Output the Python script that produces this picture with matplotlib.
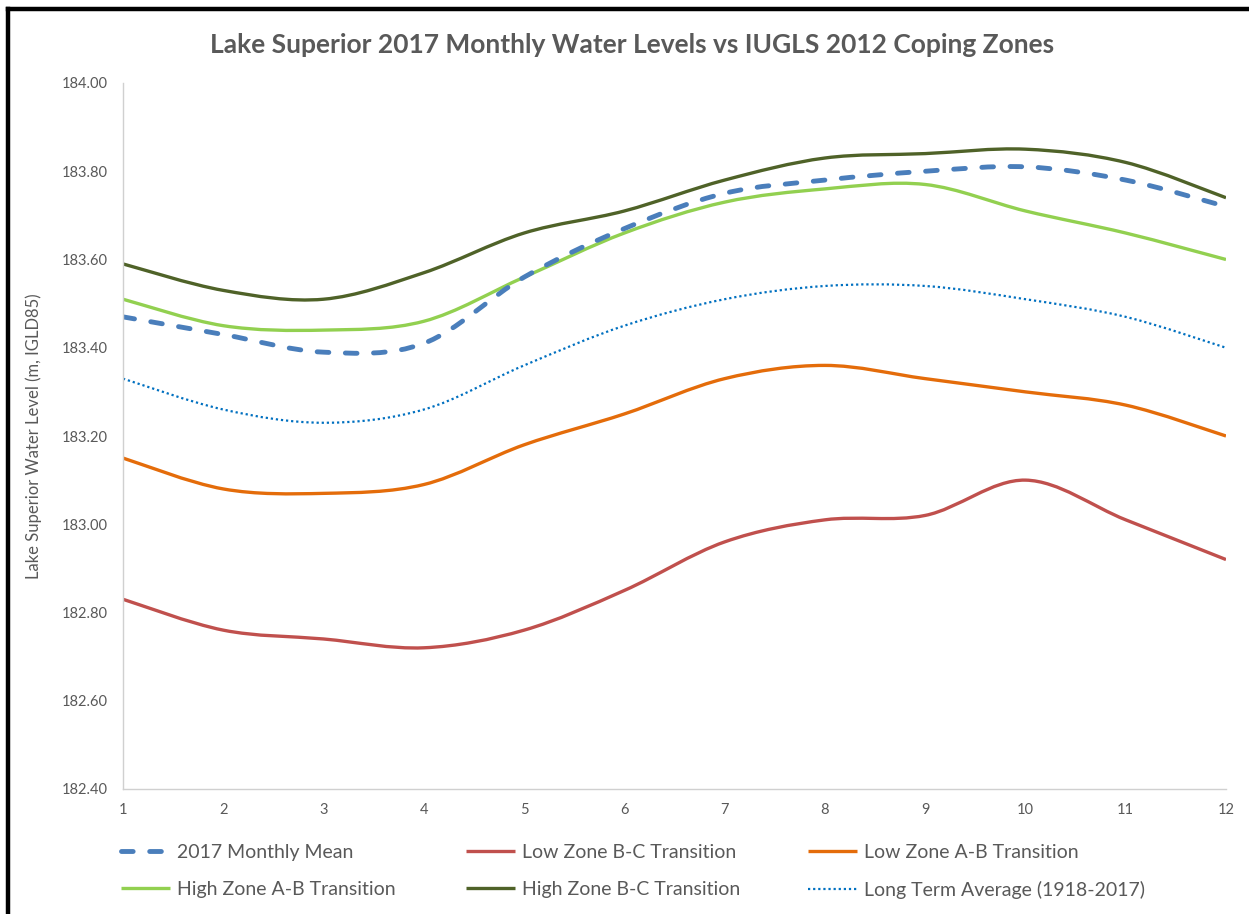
import numpy as np
import matplotlib
matplotlib.use("Agg")
import matplotlib.pyplot as plt
from matplotlib.path import Path
from matplotlib.patches import PathPatch
from matplotlib.lines import Line2D

# ---- data -------------------------------------------------------------
months = list(range(1, 13))
mean_2017 = [183.47, 183.43, 183.39, 183.41, 183.56, 183.67, 183.75, 183.78, 183.80, 183.81, 183.78, 183.72]
low_bc = [182.83, 182.76, 182.74, 182.72, 182.76, 182.85, 182.96, 183.01, 183.02, 183.10, 183.01, 182.92]
low_ab = [183.15, 183.08, 183.07, 183.09, 183.18, 183.25, 183.33, 183.36, 183.33, 183.30, 183.27, 183.20]
high_ab = [183.51, 183.45, 183.44, 183.46, 183.56, 183.66, 183.73, 183.76, 183.77, 183.71, 183.66, 183.60]
high_bc = [183.59, 183.53, 183.51, 183.57, 183.66, 183.71, 183.78, 183.83, 183.84, 183.85, 183.82, 183.74]
long_term = [183.33, 183.26, 183.23, 183.26, 183.36, 183.45, 183.51, 183.54, 183.54, 183.51, 183.47, 183.40]

series_names = ["2017 Monthly Mean", "Low Zone B-C Transition", "Low Zone A-B Transition",
                "High Zone A-B Transition", "High Zone B-C Transition", "Long Term Average (1918-2017)"]
y_ticks = [182.40, 182.60, 182.80, 183.00, 183.20, 183.40, 183.60, 183.80, 184.00]

TXT = "#595959"
plt.rcParams["font.family"] = ["Lato", "DejaVu Sans"]


def smooth_path(xs, ys):
    """Cubic Bezier path through the points (Catmull-Rom style smoothing)."""
    pts = np.column_stack([xs, ys]).astype(float)
    ext = np.vstack([pts[0], pts, pts[-1]])
    verts = [pts[0]]
    codes = [Path.MOVETO]
    for i in range(len(pts) - 1):
        p0, p1, p2, p3 = ext[i], ext[i + 1], ext[i + 2], ext[i + 3]
        verts += [p1 + (p2 - p0) / 6.0, p2 - (p3 - p1) / 6.0, p2]
        codes += [Path.CURVE4] * 3
    return Path(verts, codes)


styles = [
    dict(color="#4A7EBB", lw=3.5, ls=(0, (2.4, 3.4)), cap="round"),
    dict(color="#C0504D", lw=2.4, ls="solid", cap="butt"),
    dict(color="#E46C0A", lw=2.4, ls="solid", cap="butt"),
    dict(color="#92D050", lw=2.4, ls="solid", cap="butt"),
    dict(color="#4F6228", lw=2.4, ls="solid", cap="butt"),
    dict(color="#0070C0", lw=1.6, ls=(0, (1.0, 1.3)), cap="butt"),
]
data = [mean_2017, low_bc, low_ab, high_ab, high_bc, long_term]

fig = plt.figure(figsize=(12.49, 9.14), dpi=100)
ax = fig.add_axes([123 / 1249, 1 - 789 / 914, (1226 - 123) / 1249, (789 - 83) / 914])

# draw in reverse so the 2017 series sits on top
for vals, st in list(zip(data, styles))[::-1]:
    patch = PathPatch(smooth_path(months, vals), fill=False, edgecolor=st["color"],
                      lw=st["lw"], linestyle=st["ls"], capstyle=st["cap"], joinstyle="round")
    ax.add_patch(patch)

ax.set_xlim(1, 12)
ax.set_ylim(182.40, 184.00)
ax.set_xticks(months)
ax.set_xticklabels([str(m) for m in months])
ax.set_yticks(y_ticks)
ax.set_yticklabels([f"{v:.2f}" for v in y_ticks])
ax.tick_params(axis="both", length=0, labelsize=10.5, labelcolor=TXT)
ax.tick_params(axis="y", pad=11)
ax.tick_params(axis="x", pad=10)
for side in ("top", "right"):
    ax.spines[side].set_visible(False)
for side in ("left", "bottom"):
    ax.spines[side].set_color("#D0D0D0")
    ax.spines[side].set_linewidth(1.0)

ax.set_ylabel("Lake Superior Water Level (m, IGLD85)", fontsize=12, color=TXT)
ax.yaxis.set_label_coords((42 - 123) / 1103, 0.5)

fig.text(0.506, 1 - 45 / 914, "Lake Superior 2017 Monthly Water Levels vs IUGLS 2012 Coping Zones",
         ha="center", va="center", fontsize=19, fontweight="bold", color=TXT)

# legend: three columns of two entries each
handles = [Line2D([], [], color=st["color"], lw=st["lw"], linestyle=st["ls"],
                  dash_capstyle=st["cap"], solid_capstyle="butt") for st in styles]
columns = [(0, 3), (1, 4), (2, 5)]
col_x = [121, 466, 808]
for (a, b), x0 in zip(columns, col_x):
    leg = fig.legend([handles[a], handles[b]], [series_names[a], series_names[b]],
                     loc="upper left", bbox_to_anchor=(x0 / 1249, 1 - 844 / 914),
                     frameon=False, fontsize=14, handlelength=2.5, handletextpad=0.4,
                     labelspacing=1.02, borderpad=0, borderaxespad=0)
    for t in leg.get_texts():
        t.set_color(TXT)

# black frame along the top and left edges
fig.add_artist(Line2D([8 / 1249, 8 / 1249], [0, 1 - 9 / 914], transform=fig.transFigure,
                      color="black", lw=3.2, solid_capstyle="projecting"))
fig.add_artist(Line2D([8 / 1249, 1], [1 - 9 / 914, 1 - 9 / 914], transform=fig.transFigure,
                      color="black", lw=3.2, solid_capstyle="projecting"))

fig.savefig("out.png", dpi=100, facecolor="white")
